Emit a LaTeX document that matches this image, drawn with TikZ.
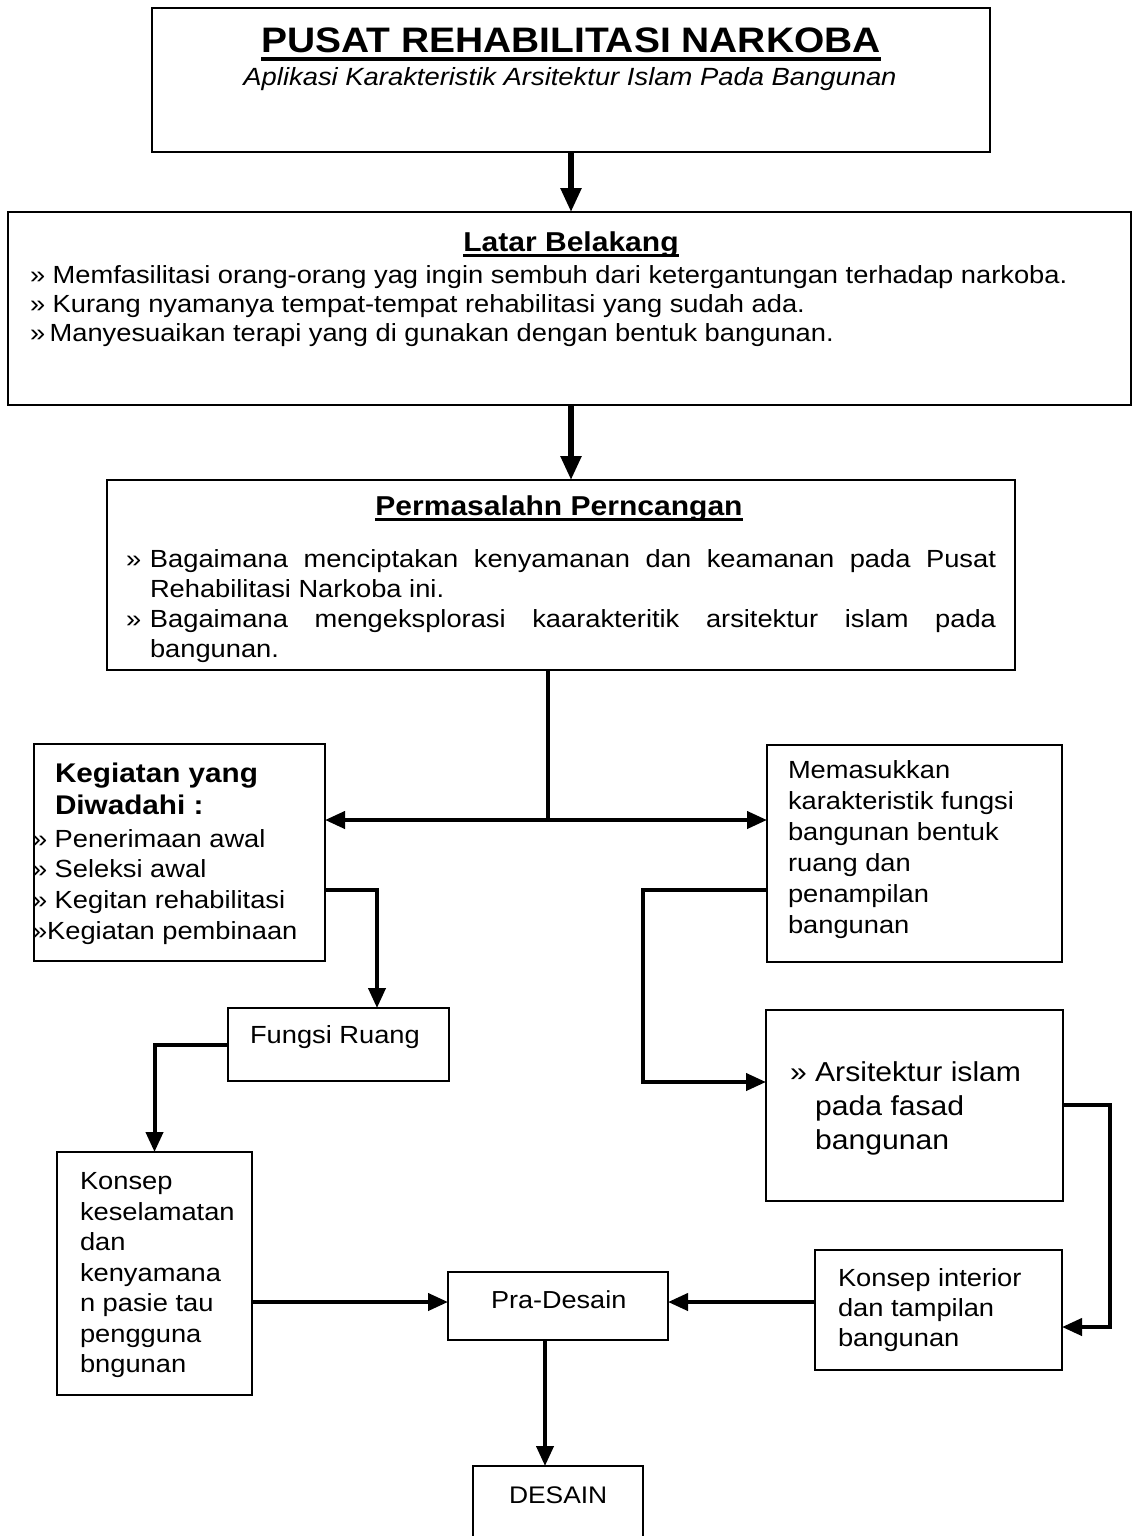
\documentclass[tikz,border=0pt]{standalone}
\usepackage{fontspec}
\setmainfont{Liberation Sans}[FakeStretch=1.1]
\usetikzlibrary{arrows.meta}
\newsavebox\ulbox
\newcommand\ulx[3]{\sbox\ulbox{#3}\rlap{\vrule width\wd\ulbox height -#1 depth #2}\usebox\ulbox}
\begin{document}
\begin{tikzpicture}[x=1pt,y=-1pt,
  box/.style={draw, line width=2.4pt, inner sep=0pt, outer sep=0pt, anchor=north west},
  txt/.style={inner sep=0pt, outer sep=0pt, anchor=north west, align=left},
  lbl/.style={inner sep=0pt, outer sep=0pt, anchor=base west},
  conn/.style={line width=4pt, line join=miter, -{Triangle[length=20pt,width=17pt]}},
  bigconn/.style={line width=5.5pt, -{Triangle[length=24pt,width=20pt]}},
  dconn/.style={line width=4pt, {Triangle[length=20pt,width=17pt]}-{Triangle[length=20pt,width=17pt]}}
]
\useasboundingbox (0,0) rectangle (1133,1536);

% boxes
\node[box, minimum width=838pt, minimum height=144pt] (title) at (152,8) {};
\node[box, minimum width=1123pt, minimum height=193pt] (latar) at (8,212) {};
\node[box, minimum width=908pt, minimum height=190pt] (perm) at (107,480) {};
\node[box, minimum width=291pt, minimum height=217pt] (keg) at (34,744) {};
\node[box, minimum width=295pt, minimum height=217pt] (mem) at (767,745) {};
\node[box, minimum width=221pt, minimum height=73pt] (fungsi) at (228,1008) {};
\node[box, minimum width=195pt, minimum height=243pt] (konsep) at (57,1152) {};
\node[box, minimum width=297pt, minimum height=191pt] (arsi) at (766,1010) {};
\node[box, minimum width=247pt, minimum height=120pt] (interior) at (815,1250) {};
\node[box, minimum width=220pt, minimum height=68pt] (pra) at (448,1272) {};
\node[box, minimum width=170pt, minimum height=90pt] (desain) at (473,1466) {};

% texts
\node[inner sep=0pt, anchor=base, font=\fontsize{35.4}{40}\selectfont\bfseries] (titletext) at (571,53)
  {\ulx{4pt}{8pt}{PUSAT REHABILITASI NARKOBA}};
\node[inner sep=0pt, anchor=base, font=\fontsize{24.9}{28}\selectfont\itshape] (subtext) at (570,86)
  {Aplikasi Karakteristik Arsitektur Islam Pada Bangunan};

\node[inner sep=0pt, anchor=base, font=\fontsize{27.3}{30}\selectfont\bfseries] (latarhead) at (571,251)
  {\ulx{3pt}{6pt}{Latar Belakang}};
\node[txt, font=\fontsize{24.8}{29}\selectfont] (latartext) at (30,262.7)
  {\strut» Memfasilitasi orang-orang yag ingin sembuh dari ketergantungan terhadap narkoba.\\
   » Kurang nyamanya tempat-tempat rehabilitasi yang sudah ada.\\
   »\hspace{4.5pt}Manyesuaikan terapi yang di gunakan dengan bentuk bangunan.};

\node[inner sep=0pt, anchor=base, font=\fontsize{27.3}{30}\selectfont\bfseries] (permhead) at (559,515)
  {\ulx{3pt}{6pt}{Permasalahn Perncangan}};
\node[txt, text width=870pt, align=justify, font=\fontsize{24.8}{30}\selectfont] (permtext) at (126,546)
  {\parindent=0pt\hangindent=24pt\hangafter=1\strut\makebox[24pt][l]{»}Bagaimana menciptakan kenyamanan dan keamanan pada Pusat\linebreak Rehabilitasi Narkoba ini.\par
   \hangindent=24pt\hangafter=1\makebox[24pt][l]{»}Bagaimana mengeksplorasi kaarakteritik arsitektur islam pada\linebreak bangunan.\par};

\node[txt, font=\fontsize{27}{32}\selectfont\bfseries] (keghead) at (55,759.6)
  {\strut Kegiatan yang\\Diwadahi :};
\node[txt, font=\fontsize{24.8}{30.7}\selectfont] (kegtext) at (32,825.5)
  {\strut» Penerimaan awal\\» Seleksi awal\\» Kegitan rehabilitasi\\»Kegiatan pembinaan};

\node[txt, font=\fontsize{24.8}{31}\selectfont] (memtext) at (788,756.3)
  {\strut Memasukkan\\karakteristik fungsi\\bangunan bentuk\\ruang dan\\penampilan\\bangunan};

\node[lbl, font=\fontsize{24.8}{30}\selectfont] (fungsitext) at (250,1043) {Fungsi Ruang};

\node[txt, font=\fontsize{24.8}{30.5}\selectfont] (konseptext) at (80,1168.6)
  {\strut Konsep\\keselamatan\\dan\\kenyamana\\n pasie tau\\pengguna\\bngunan};

\node[txt, font=\fontsize{27.4}{34}\selectfont] (arsitext) at (790,1057.2)
  {\strut» Arsitektur islam\\\hphantom{» }pada fasad\\\hphantom{» }bangunan};

\node[txt, font=\fontsize{24.8}{30}\selectfont] (interiortext) at (838,1265)
  {\strut Konsep interior\\dan tampilan\\bangunan};

\node[lbl, font=\fontsize{24.6}{30}\selectfont] (pratext) at (491,1308) {Pra-Desain};
\node[lbl, font=\fontsize{24}{30}\selectfont] (desaintext) at (509,1503) {DESAIN};

% connectors
\draw[bigconn] (title.south) -- (latar.north -| title.south);
\draw[bigconn] (latar.south -| title.south) -- (perm.north -| title.south);

\coordinate (split) at (548,820);
\draw[line width=3.5pt] (perm.south -| split) -- (split);
\draw[dconn] (split -| keg.east) -- (split -| mem.west);

\coordinate (kf) at (377,890);
\draw[conn] (keg.east |- kf) -- (kf) -- (fungsi.north -| kf);
\draw[conn] (fungsi.west) -| (konsep.north);

\coordinate (ma) at (643,890);
\coordinate (mb) at (643,1082);
\draw[conn] (mem.west |- ma) -- (ma) -- (mb) -- (arsi.west |- mb);

\coordinate (ai) at (1110,1105);
\coordinate (aj) at (1110,1327);
\draw[conn] (arsi.east |- ai) -- (ai) -- (aj) -- (interior.east |- aj);

\coordinate (py) at (0,1302);
\draw[conn] (konsep.east |- py) -- (pra.west |- py);
\draw[conn] (interior.west |- py) -- (pra.east |- py);

\coordinate (pd) at (545,0);
\draw[conn] (pra.south -| pd) -- (desain.north -| pd);
\end{tikzpicture}
\end{document}
